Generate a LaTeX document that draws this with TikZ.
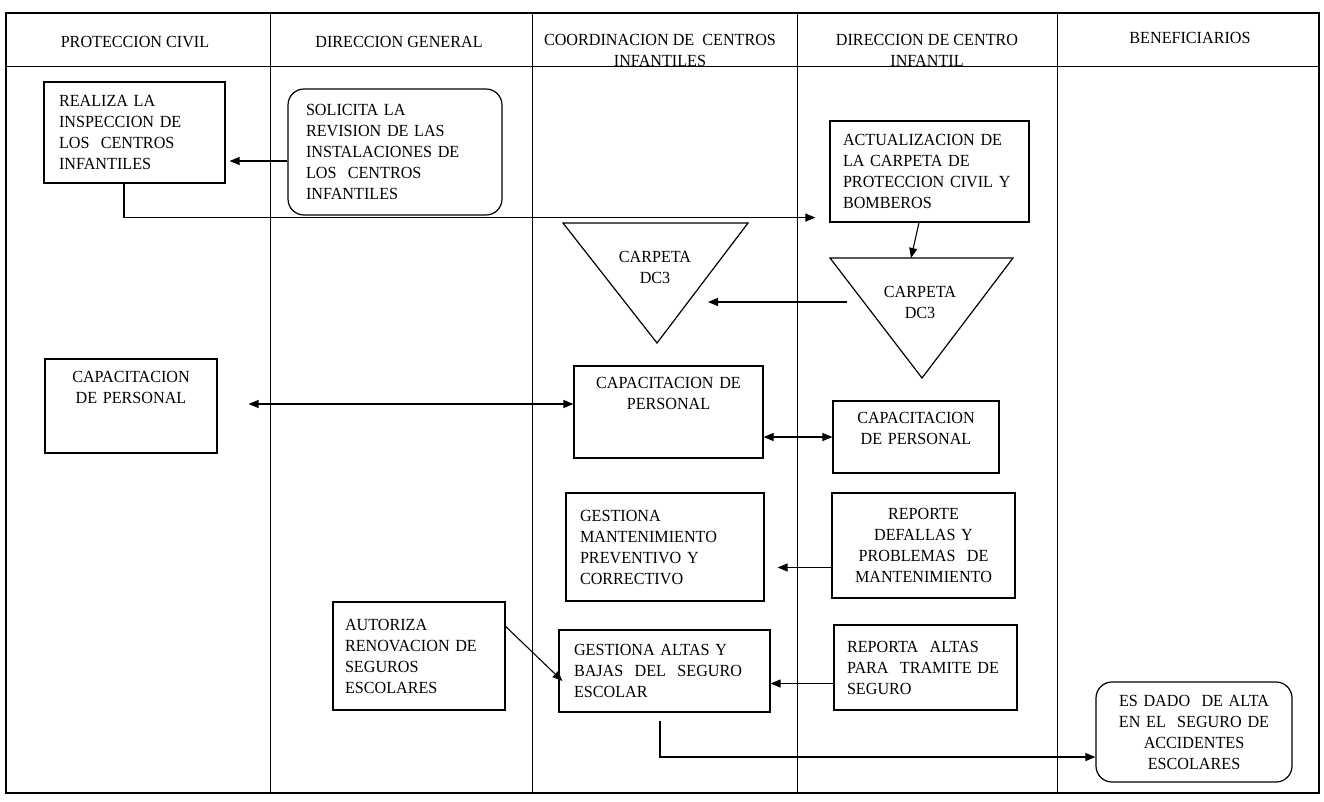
\documentclass[tikz,border=0pt]{standalone}
\usepackage{fontspec}
\setmainfont{Liberation Serif}[FakeStretch=0.95]
\usetikzlibrary{arrows.meta,calc}
\tikzset{
	caja/.style={
			draw, rectangle, line width=1.2pt, inner ysep=4pt, align=left,
			font=\fontsize{17}{21}\selectfont
		},
	cajar/.style={caja, rounded corners=16pt},
	titulo/.style={align=center, font=\fontsize{17}{21}\selectfont},
	flecha/.style={line width=1.1pt, -{Triangle[length=10pt,width=8pt]}},
	doble/.style={line width=1.1pt, {Triangle[length=10pt,width=8pt]}-{Triangle[length=10pt,width=8pt]}},
	carril/.style={line width=1pt}
}
\begin{document}
\begin{tikzpicture}[x=1pt, y=-1pt]
		\useasboundingbox (0,0) rectangle (1324,801);

		% Marco y carriles
		\draw[line width=1.4pt] (6,13) rectangle (1319,793);
		\draw[carril] (6,66) -- (1319,66);
		\foreach \x in {270,532,797,1057}
			\draw[carril] (\x,13) -- (\x,793);

		% Encabezados
		\node[titulo] (hpc) at (135,42) {PROTECCION CIVIL};
		\node[titulo] (hdg) at (399,42) {DIRECCION GENERAL};
		\node[titulo] (hcci) at (660,50) {COORDINACION DE\ \ CENTROS\\INFANTILES};
		\node[titulo] (hdci) at (927,50) {DIRECCION DE CENTRO\\INFANTIL};
		\node[titulo] (hben) at (1190,38) {BENEFICIARIOS};

		% Inspeccion de los centros
		\node[caja, minimum height=101pt, inner xsep=15pt, text width=151pt] (realiza) at (134.5,132.5) {REALIZA LA\\INSPECCION DE\\LOS\ \ CENTROS\\INFANTILES};
		\node[cajar, minimum height=126pt, inner xsep=18pt, text width=178pt] (solicita) at (395,152) {SOLICITA LA\\REVISION DE LAS\\INSTALACIONES DE\\LOS\ \ CENTROS\\INFANTILES};
		\node[caja, minimum height=101pt, inner xsep=13pt, text width=173pt] (actualiza) at (929.5,171.5) {ACTUALIZACION DE\\LA CARPETA DE\\PROTECCION CIVIL Y\\BOMBEROS};

		% Carpetas DC3
		\draw[line width=1.2pt] (563,223) -- (748,223) -- (657,343) -- cycle;
		\node[titulo] (carpcci) at (655,267) {CARPETA\\DC3};
		\draw[line width=1.2pt] (830,258) -- (1013,258) -- (922,378) -- cycle;
		\node[titulo] (carpdci) at (920,302) {CARPETA\\DC3};
		\coordinate (tdci) at (911,258);
		\coordinate (dcfin) at (708,302);

		% Capacitacion de personal
		\node[caja, align=center, minimum height=94pt, inner xsep=12pt, text width=148pt, text depth=58pt] (cappc) at (131,406) {CAPACITACION\\DE PERSONAL};
		\node[caja, align=center, minimum height=92pt, inner xsep=10pt, text width=169pt, text depth=58pt] (capcoord) at (668.5,412) {CAPACITACION DE\\PERSONAL};
		\node[caja, align=center, minimum height=72pt, inner xsep=10pt, text width=146pt, text depth=38pt] (capdci) at (916,437) {CAPACITACION\\DE PERSONAL};

		% Mantenimiento
		\node[caja, minimum height=108pt, inner xsep=14pt, text width=170pt] (gestmant) at (665,547) {GESTIONA\\MANTENIMIENTO\\PREVENTIVO Y\\CORRECTIVO};
		\node[caja, align=center, minimum height=105pt, inner xsep=8pt, text width=167pt] (reporte) at (923.5,545.5) {REPORTE\\DEFALLAS Y\\PROBLEMAS\ \ DE\\MANTENIMIENTO};

		% Seguro escolar
		\node[caja, minimum height=108pt, inner xsep=12pt, text width=148pt] (autoriza) at (419,656) {AUTORIZA\\RENOVACION DE\\SEGUROS\\ESCOLARES};
		\node[caja, minimum height=82pt, inner xsep=15pt, text width=181pt] (gestaltas) at (664.5,671) {GESTIONA ALTAS Y\\BAJAS\ \ DEL\ \ SEGURO\\ESCOLAR};
		\node[caja, minimum height=85pt, inner xsep=13pt, text width=157pt] (repaltas) at (925.5,667.5) {REPORTA\ \ ALTAS\\PARA\ \ TRAMITE DE\\SEGURO};
		\node[cajar, align=center, minimum height=100pt, inner xsep=10pt, text width=176pt] (esdado) at (1194,732) {ES DADO\ \ DE ALTA\\EN EL\ \ SEGURO DE\\ACCIDENTES\\ESCOLARES};

		% Conectores
		\draw[flecha, shorten >=4pt] ($(solicita.west)+(0,9)$) -- ($(solicita.west -| realiza.east)+(0,9)$);
		\draw[flecha, shorten >=14pt] ($(realiza.south)+(-10.5,0)$) |- ($(actualiza.south west)+(0,-5)$);
		\draw[flecha] ($(actualiza.south)+(-10.5,0)$) -- (tdci);
		\draw[flecha] ($(carpdci)+(-73,0)$) -- (dcfin);
		\draw[doble, shorten <=31pt] ($(cappc.east |- capcoord.west)+(0,-8)$) -- ($(capcoord.west)+(0,-8)$);
		\draw[doble] (capdci.west -| capcoord.east) -- (capdci.west);
		\draw[flecha, shorten >=13pt] ($(reporte.west)+(0,22)$) -- ($(reporte.west -| gestmant.east)+(0,22)$);
		\draw[flecha] ($(repaltas.west)+(0,16)$) -- ($(repaltas.west -| gestaltas.east)+(0,16)$);
		\draw[flecha] ($(autoriza.north east)+(0,25)$) -- ($(gestaltas.west)+(4,10)$);
		\draw[flecha] ($(gestaltas.south)+(-4.5,8)$) |- ($(esdado.west)+(0,25)$);
	\end{tikzpicture}
\end{document}
